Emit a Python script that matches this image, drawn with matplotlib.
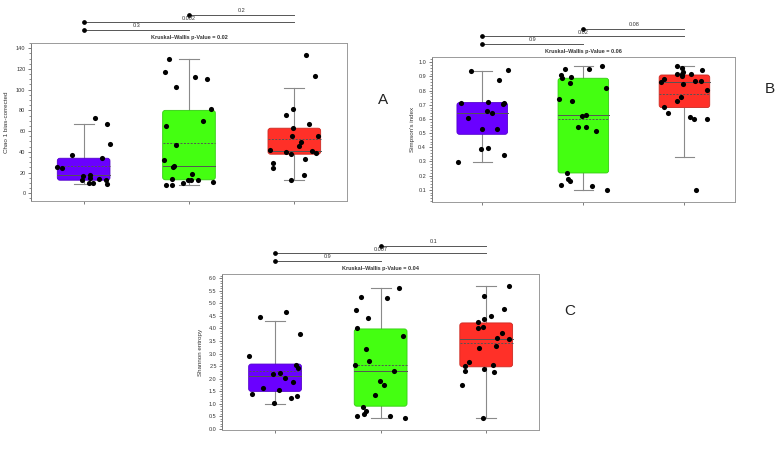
#!/usr/bin/env python3
"""Three-panel box/strip figure: Chao1, Simpson, Shannon across three groups."""

import matplotlib
matplotlib.use("Agg")
import matplotlib.pyplot as plt
import numpy as np
from matplotlib.patches import FancyBboxPatch
from matplotlib.ticker import AutoMinorLocator, FormatStrFormatter
from matplotlib.transforms import ScaledTranslation

plt.rcParams["font.family"] = ["Liberation Sans", "DejaVu Sans"]

GROUP_COLORS = ["#6a00ff", "#44ff11", "#ff3028"]
EDGE_COLORS = ["#5200cc", "#33cc11", "#cc2a22"]

# ---- Panel A: Chao 1 ----
A_Y = [
    [25, 24, 37, 17, 12.5, 9.7, 9.7, 18, 14.5, 73, 34, 14, 66.6, 13, 8.7, 47.6],
    [117, 130, 102.6, 112.6, 110.4, 81, 70, 65, 47, 32.5, 26, 25, 14, 18.3,
     12.5, 12.5, 12.5, 10, 8, 8.4, 11],
    [133, 113.6, 81.4, 75.3, 63, 66.6, 55.4, 55, 49.6, 45.4, 41.5, 41, 40, 38,
     39, 29.3, 24, 33.5, 17.7, 13.2],
]
A_JIT = [
    [-0.25, -0.21, -0.11, -0.01, -0.02, 0.05, 0.09, 0.06, 0.06, 0.11, 0.17,
     0.15, 0.22, 0.21, 0.22, 0.25],
    [-0.23, -0.19, -0.12, 0.06, 0.17, 0.21, 0.13, -0.22, -0.12, -0.24, -0.14,
     -0.15, -0.16, 0.03, -0.01, 0.02, 0.09, -0.06, -0.22, -0.16, 0.23],
    [0.11, 0.20, -0.01, -0.08, -0.01, 0.14, -0.02, 0.22, 0.06, 0.04, -0.23,
     0.17, -0.08, -0.03, 0.21, -0.20, -0.20, 0.10, 0.09, -0.03],
]
# whisker low, q1, median, q3, whisker high, mean
A_STATS = [
    [8.7, 12.6, 17.7, 33.8, 67, 26.5],
    [8, 13, 26.7, 80, 130, 48.9],
    [12.9, 37.7, 41.2, 62.8, 101.4, 52],
]
A_PVALS = ["0.3", "0.002", "0.2"]
A_KW = "0.02"

# ---- Panel B: Simpson ----
B_Y = [
    [0.94, 0.944, 0.875, 0.715, 0.722, 0.708, 0.715, 0.609, 0.658, 0.642,
     0.529, 0.529, 0.397, 0.385, 0.343, 0.293],
    [0.95, 0.972, 0.953, 0.908, 0.892, 0.894, 0.854, 0.819, 0.743, 0.724,
     0.618, 0.63, 0.545, 0.543, 0.515, 0.218, 0.175, 0.159, 0.135, 0.126, 0.095],
    [0.97, 0.958, 0.934, 0.948, 0.92, 0.92, 0.918, 0.9, 0.885, 0.861, 0.87,
     0.866, 0.847, 0.805, 0.755, 0.724, 0.682, 0.642, 0.611, 0.597, 0.597, 0.095],
]
B_JIT = [
    [-0.11, 0.25, 0.17, -0.21, 0.06, 0.21, 0.22, -0.14, 0.05, 0.10, 0.0, 0.15,
     0.06, -0.01, 0.22, -0.24],
    [-0.18, 0.18, 0.06, -0.22, -0.21, -0.12, -0.13, 0.22, -0.24, -0.11, -0.01,
     0.03, -0.05, 0.03, 0.13, -0.16, -0.15, -0.13, -0.22, 0.09, 0.23],
    [-0.07, -0.02, -0.01, 0.17, -0.07, -0.02, 0.06, -0.02, -0.20, -0.23, 0.10,
     0.16, -0.01, 0.22, -0.03, -0.07, -0.20, -0.16, 0.05, 0.09, 0.22, 0.11],
]
B_STATS = [
    [0.293, 0.491, 0.644, 0.715, 0.941, 0.645],
    [0.095, 0.218, 0.625, 0.887, 0.972, 0.600],
    [0.333, 0.680, 0.861, 0.910, 0.970, 0.776],
]
B_PVALS = ["0.9", "0.02", "0.08"]
B_KW = "0.06"

# ---- Panel C: Shannon ----
C_Y = [
    [4.44, 4.67, 3.76, 2.89, 2.53, 2.42, 2.19, 2.22, 2.04, 1.86, 1.61, 1.56,
     1.38, 1.32, 1.24, 1.01],
    [5.63, 5.24, 5.21, 4.72, 4.43, 4.03, 3.71, 3.19, 2.70, 2.55, 2.29, 1.90,
     1.73, 1.36, 0.88, 0.71, 0.60, 0.51, 0.52, 0.41],
    [5.71, 5.31, 4.76, 4.50, 4.27, 4.36, 4.07, 4.02, 3.80, 3.63, 3.59, 3.29,
     3.23, 2.67, 2.50, 2.31, 2.55, 2.39, 2.26, 1.76, 0.41],
]
C_JIT = [
    [-0.14, 0.10, 0.24, -0.25, 0.20, 0.22, -0.02, 0.05, 0.09, 0.17, -0.11,
     0.04, -0.22, 0.21, 0.15, -0.01],
    [0.17, -0.19, 0.06, -0.23, -0.12, -0.22, 0.21, -0.14, -0.11, -0.24, 0.13,
     -0.01, 0.03, -0.05, -0.17, -0.14, -0.16, -0.22, 0.09, 0.23],
    [0.22, -0.02, 0.17, 0.05, -0.08, -0.02, -0.03, -0.08, 0.15, 0.10, 0.22,
     0.09, -0.07, -0.16, -0.20, -0.20, 0.06, -0.02, 0.07, -0.23, -0.03],
]
C_STATS = [
    [1.0, 1.49, 2.10, 2.58, 4.28, 2.30],
    [0.41, 0.90, 2.29, 3.98, 5.61, 2.55],
    [0.41, 2.47, 3.59, 4.22, 5.68, 3.42],
]
C_PVALS = ["0.9", "0.007", "0.1"]
C_KW = "0.04"


def draw_panel(fig, ax, ys, jits, stats, pvals, kw, ylabel, ylim, major, minor_n, fmt):
    ax.set_xlim(0.5, 3.5)
    ax.set_ylim(*ylim)
    # aspect between data units so the rounded corners look round
    bb = ax.get_position()
    fw, fh = fig.get_size_inches()
    x_per_in = 3.0 / (bb.width * fw)
    y_per_in = (ylim[1] - ylim[0]) / (bb.height * fh)
    aspect = y_per_in / x_per_in

    bw = 0.5
    cap = 0.095
    for i in range(3):
        xc = i + 1
        lo, q1, med, q3, hi, mean = stats[i]
        ax.plot([xc, xc], [q3, hi], color="#8a8a8a", lw=0.8, zorder=1)
        ax.plot([xc, xc], [lo, q1], color="#8a8a8a", lw=0.8, zorder=1)
        ax.plot([xc - cap, xc + cap], [hi, hi], color="#8a8a8a", lw=0.8, zorder=1)
        ax.plot([xc - cap, xc + cap], [lo, lo], color="#8a8a8a", lw=0.8, zorder=1)
        box = FancyBboxPatch((xc - bw / 2, q1), bw, q3 - q1,
                             boxstyle="round,pad=0,rounding_size=0.025",
                             mutation_aspect=aspect,
                             facecolor=GROUP_COLORS[i], edgecolor=EDGE_COLORS[i],
                             lw=0.6, zorder=2)
        ax.add_patch(box)
        ax.plot([xc - bw / 2, xc + bw / 2], [med, med], color="#555555", lw=0.7, zorder=3)
        ax.plot([xc - bw / 2, xc + bw / 2], [mean, mean], color="#555555", lw=0.7,
                ls=(0, (2, 1.5)), zorder=3)
        ax.plot(xc + np.array(jits[i]), ys[i], "o", color="black", ms=3.7,
                mec="black", mew=0, zorder=4)

    ax.set_xticks([1, 2, 3])
    ax.set_xticklabels([])
    ax.yaxis.set_major_locator(plt.MultipleLocator(major))
    ax.yaxis.set_minor_locator(AutoMinorLocator(minor_n))
    ax.yaxis.set_major_formatter(FormatStrFormatter(fmt))
    ax.tick_params(axis="both", which="major", length=2.5, width=0.6, labelsize=4,
                   pad=1.5, colors="#666666", labelcolor="#333333")
    ax.tick_params(axis="y", which="minor", length=1.5, width=0.5, colors="#666666")
    for s in ["top", "right", "bottom"]:
        ax.spines[s].set_color("#9a9a9a")
        ax.spines[s].set_linewidth(0.7)
    ax.spines["left"].set_color("#777777")
    ax.spines["left"].set_linewidth(0.7)
    ax.set_ylabel(ylabel, fontsize=4.5, color="#333333")

    # significance lines above the frame (offsets in pixels at 100 dpi)
    def up(px):
        return ax.get_xaxis_transform() + ScaledTranslation(0, px / 100.0, fig.dpi_scale_trans)

    ax.text(2, 1, f"Kruskal–Wallis p-Value = {kw}", transform=up(6),
            ha="center", va="center", fontsize=4, fontweight="bold", color="#333333")
    pairs = [(1, 2, 13.5), (1, 3, 21), (2, 3, 28.5)]
    for (a, b, px), label in zip(pairs, pvals):
        ax.plot([a, b], [1, 1], color="#555555", lw=0.7, transform=up(px), clip_on=False)
        ax.plot([a], [1], "o", color="black", ms=2.4, transform=up(px), clip_on=False)
        ax.text((a + b) / 2, 1, label, transform=up(px + 3.8), ha="center", va="center",
                fontsize=4, color="#333333")


def main():
    fig = plt.figure(figsize=(7.84, 4.5), dpi=100)
    ax_a = fig.add_axes([0.0395, 0.5544, 0.4031, 0.35])
    ax_b = fig.add_axes([0.5506, 0.5511, 0.3869, 0.3216])
    ax_c = fig.add_axes([0.2835, 0.0444, 0.4040, 0.3467])

    draw_panel(fig, ax_a, A_Y, A_JIT, A_STATS, A_PVALS, A_KW,
               "Chao 1 bias-corrected", (-7, 145), 20, 4, "%d")
    draw_panel(fig, ax_b, B_Y, B_JIT, B_STATS, B_PVALS, B_KW,
               "Simpson's index", (0.013, 1.035), 0.1, 5, "%.1f")
    draw_panel(fig, ax_c, C_Y, C_JIT, C_STATS, C_PVALS, C_KW,
               "Shannon entropy", (-0.05, 6.17), 0.5, 5, "%.1f")

    ax_a.yaxis.set_label_coords(-0.07, 0.5)
    ax_b.yaxis.set_label_coords(-0.055, 0.5)
    ax_c.yaxis.set_label_coords(-0.06, 0.5)

    fig.text(0.4885, 0.778, "A", fontsize=11, ha="center", va="center", color="#222222")
    fig.text(0.982, 0.802, "B", fontsize=11, ha="center", va="center", color="#222222")
    fig.text(0.727, 0.309, "C", fontsize=11, ha="center", va="center", color="#222222")

    fig.savefig("out.png", dpi=100)


if __name__ == "__main__":
    main()
